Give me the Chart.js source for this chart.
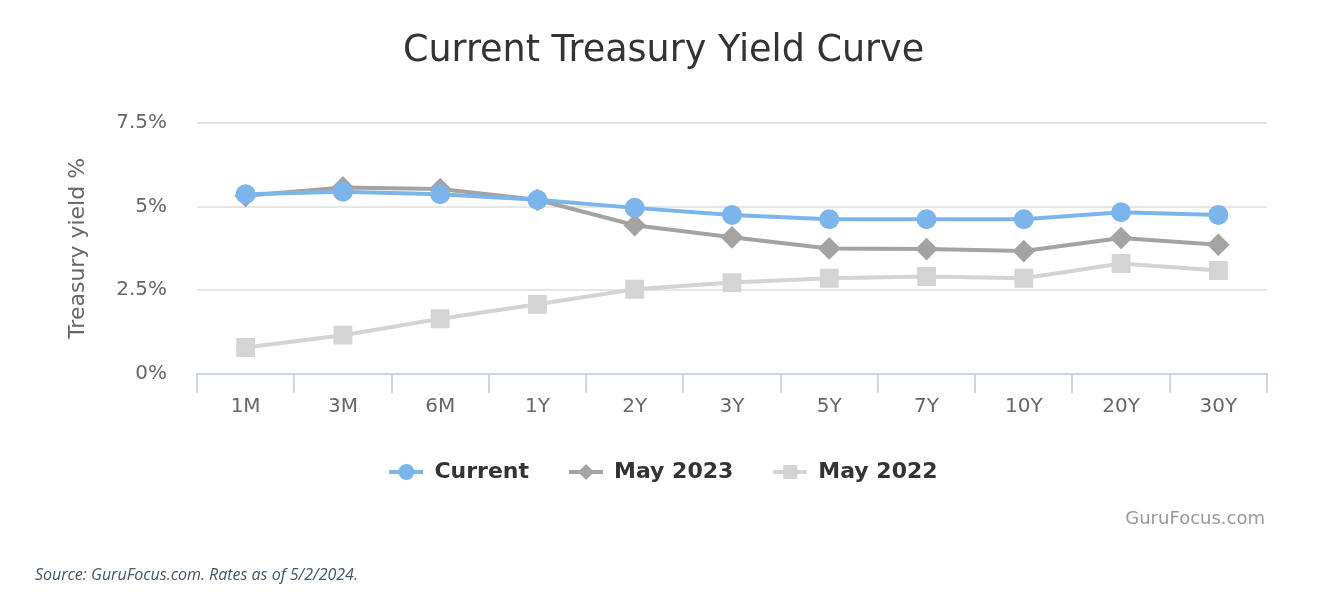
<!DOCTYPE html>
<html>
<head>
<meta charset="utf-8">
<script src="https://cdn.jsdelivr.net/npm/chart.js@4.4.1/dist/chart.umd.min.js"></script>
<style>
    html, body { margin: 0; padding: 0; background: #fff; }
    #wrap { position: relative; width: 1327px; height: 598px; }
    #credit {
        position: absolute; right: 62px; top: 507px;
        font: 18px "DejaVu Sans", sans-serif; color: #999;
    }
    #source {
        position: absolute; left: 35px; top: 563px;
        font: italic 16px "Open Sans", "Liberation Sans", sans-serif; color: #44546a;
    }
</style>
</head>
<body>
<div id="wrap">
    <canvas id="myChart" width="1327" height="598"></canvas>
    <div id="credit">GuruFocus.com</div>
    <div id="source">Source: GuruFocus.com. Rates as of 5/2/2024.</div>
</div>
<script>
// tenors on the x axis
const categories = ['1M', '3M', '6M', '1Y', '2Y', '3Y', '5Y', '7Y', '10Y', '20Y', '30Y'];

// yields in %
const currentYields = [5.37, 5.44, 5.37, 5.20, 4.96, 4.75, 4.62, 4.62, 4.62, 4.83, 4.75];
const may2023Yields = [5.32, 5.57, 5.52, 5.20, 4.44, 4.08, 3.75, 3.73, 3.67, 4.06, 3.86];
const may2022Yields = [0.79, 1.16, 1.65, 2.08, 2.53, 2.73, 2.86, 2.91, 2.86, 3.30, 3.09];

const yTicks = [0, 2.5, 5, 7.5];

const FONT = '"DejaVu Sans", sans-serif';

// little line+marker pictures for the legend
function legendIcon(color, shape) {
    const c = document.createElement('canvas');
    c.width = 34;
    c.height = 18;
    const g = c.getContext('2d');
    g.strokeStyle = color;
    g.lineWidth = 4;
    g.beginPath();
    g.moveTo(0, 9);
    g.lineTo(34, 9);
    g.stroke();
    g.fillStyle = color;
    g.beginPath();
    if (shape === 'circle') {
        g.arc(17, 9, 8, 0, Math.PI * 2);
    } else if (shape === 'rectRot') {
        g.moveTo(17, 1); g.lineTo(25, 9); g.lineTo(17, 17); g.lineTo(9, 9); g.closePath();
    } else {
        g.rect(10, 2, 14, 14);
    }
    g.fill();
    return c;
}

const ctx = document.getElementById('myChart').getContext('2d');

const yieldChart = new Chart(ctx, {
    type: 'line',
    data: {
        labels: categories,
        datasets: [
            {
                label: 'Current',
                data: currentYields,
                borderColor: '#7cb5ec',
                backgroundColor: '#7cb5ec',
                borderWidth: 4,
                pointStyle: 'circle',
                pointRadius: 8,
                pointHoverRadius: 8,
                fill: false
            },
            {
                label: 'May 2023',
                data: may2023Yields,
                borderColor: '#a3a3a3',
                backgroundColor: '#a3a3a3',
                borderWidth: 4,
                pointStyle: 'rectRot',
                pointRadius: 8.5,
                pointHoverRadius: 8.5,
                fill: false
            },
            {
                label: 'May 2022',
                data: may2022Yields,
                borderColor: '#d4d4d4',
                backgroundColor: '#d4d4d4',
                borderWidth: 4,
                pointStyle: 'rect',
                pointRadius: 10.5,
                pointHoverRadius: 10.5,
                fill: false
            }
        ]
    },
    options: {
        responsive: false,
        animation: false,
        devicePixelRatio: 1,
        layout: {
            padding: { left: 60, right: 60, top: 0, bottom: 105 }
        },
        elements: { point: { borderWidth: 0 } },
        plugins: {
            title: {
                display: true,
                text: 'Current Treasury Yield Curve',
                color: '#333',
                font: { family: FONT, size: 36.5, weight: 'normal' },
                padding: { top: 30, bottom: 49 }
            },
            legend: {
                position: 'bottom',
                labels: {
                    usePointStyle: true,
                    pointStyleWidth: 34,
                    boxHeight: 18,
                    padding: 40,
                    color: '#333',
                    font: { family: FONT, size: 22, weight: 'bold' },
                    generateLabels: (chart) => chart.data.datasets.map((ds, i) => ({
                        text: ds.label,
                        fontColor: '#333',
                        pointStyle: legendIcon(ds.borderColor, ds.pointStyle),
                        hidden: !chart.isDatasetVisible(i),
                        datasetIndex: i,
                        lineWidth: 0
                    }))
                }
            },
            tooltip: { enabled: false }
        },
        scales: {
            x: {
                offset: true,
                grid: {
                    offset: true,
                    drawOnChartArea: false,
                    color: '#ccd6eb',
                    lineWidth: 2,
                    tickLength: 19
                },
                border: { color: '#ccd6eb', width: 2 },
                ticks: {
                    color: '#666',
                    padding: 2,
                    font: { family: FONT, size: 20 }
                }
            },
            y: {
                min: 0,
                max: 7.5,
                afterBuildTicks: (axis) => { axis.ticks = yTicks.map(v => ({ value: v })); },
                afterFit: (axis) => { axis.width = 137; },
                grid: { color: '#e6e6e6', lineWidth: 2, drawTicks: false },
                border: { display: false },
                ticks: {
                    color: '#666',
                    padding: 30,
                    font: { family: FONT, size: 20 },
                    callback: (v) => v + '%'
                },
                title: {
                    display: true,
                    text: 'Treasury yield %',
                    color: '#666',
                    font: { family: FONT, size: 22 },
                    padding: { top: 5, bottom: 0 }
                }
            }
        }
    }
});
</script>
</body>
</html>
